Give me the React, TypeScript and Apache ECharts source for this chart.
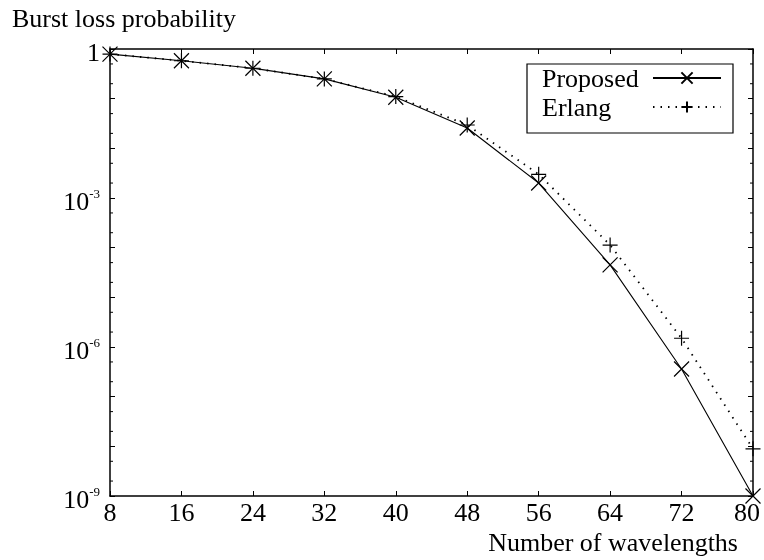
import React, { useEffect, useRef } from 'react';
import * as echarts from 'echarts';

const wavelengths = [8, 16, 24, 32, 40, 48, 56, 64, 72, 80];
const proposedLoss = [0.79, 0.58, 0.41, 0.25, 0.107, 0.0257, 2.0e-3, 4.5e-5, 3.6e-7, 1.0e-9];
const erlangLoss = [0.79, 0.58, 0.41, 0.25, 0.11, 0.0295, 3.0e-3, 1.13e-4, 1.5e-6, 8.9e-9];
const yLabelExponents = [0, -3, -6, -9];
const minorTickMantissas = [2, 5];

const FONT = '"Liberation Serif", "Times New Roman", serif';
const FS = 26;
const CROSS = 'path://M0,0L10,10M10,0L0,10';
const PLUS = 'path://M5,0L5,10M0,5L10,5';

export default function App() {
  const ref = useRef<HTMLDivElement>(null);
  useEffect(() => {
    const chart = echarts.init(ref.current!, null, { renderer: 'svg' });
    const minorTicks: number[][] = [];
    for (let e = -9; e < 0; e++) {
      for (const m of minorTickMantissas) minorTicks.push([8, m * Math.pow(10, e)]);
    }
    const axisLine = { onZero: false, lineStyle: { color: '#000', width: 1.5 } };
    const axisTick = { inside: true, length: 5, lineStyle: { color: '#000', width: 1 } };
    const xBase = {
      type: 'value',
      min: 8,
      max: 80,
      interval: 8,
      axisLine,
      axisTick,
      splitLine: { show: false },
    };
    const yBase = {
      type: 'log',
      logBase: 10,
      min: 1e-9,
      max: 1,
      splitNumber: 9,
      axisLine,
      axisTick,
      splitLine: { show: false },
    };
    chart.setOption({
      animation: false,
      grid: { left: 110, right: 11, top: 49, bottom: 64, outerBoundsMode: 'none', containLabel: false },
      xAxis: [
        {
          ...xBase,
          position: 'bottom',
          axisLabel: {
            fontSize: FS,
            fontFamily: FONT,
            color: '#000',
            margin: 3,
            formatter: (v: number) => (v === 80 ? '{r|80}' : String(v)),
            rich: { r: { fontSize: FS, fontFamily: FONT, color: '#000', padding: [0, 12, 0, 0] } },
          },
        },
        { ...xBase, position: 'top', axisLabel: { show: false } },
      ],
      yAxis: [
        {
          ...yBase,
          position: 'left',
          axisLabel: {
            margin: 10,
            color: '#000',
            formatter: (v: number) => {
              const e = Math.round(Math.log10(v));
              if (e === 0) return '{b|1}';
              if (yLabelExponents.includes(e)) return `{b|10}{s|${e}}`;
              return '';
            },
            rich: {
              b: { fontSize: FS, fontFamily: FONT, color: '#000', lineHeight: 26, padding: [6, 0, 0, 0] },
              s: { fontSize: 13, fontFamily: FONT, color: '#000', lineHeight: 13, verticalAlign: 'top', padding: [2, 0, 0, 0] },
            },
          },
        },
        { ...yBase, position: 'right', axisLabel: { show: false } },
      ],
      legend: {
        orient: 'vertical',
        right: 31,
        top: 64,
        align: 'right',
        itemWidth: 68,
        itemHeight: 14,
        itemGap: 3,
        padding: [1, 11, 13, 15],
        borderColor: '#000',
        borderWidth: 1.2,
        formatter: (name: string) => `{t|${name}}`,
        textStyle: {
          fontSize: FS,
          fontFamily: FONT,
          color: '#000',
          rich: { t: { fontSize: FS, fontFamily: FONT, color: '#000', lineHeight: 26, width: 96, align: 'left', padding: [0, 10, 0, 0] } },
        },
        data: ['Proposed', 'Erlang'],
      },
      graphic: [
        {
          type: 'text',
          x: 12,
          y: 18,
          style: { text: 'Burst loss probability', font: `${FS}px ${FONT}`, fill: '#000', align: 'left', verticalAlign: 'middle' },
        },
        {
          type: 'text',
          x: 738,
          y: 542,
          style: { text: 'Number of wavelengths', font: `${FS}px ${FONT}`, fill: '#000', align: 'right', verticalAlign: 'middle' },
        },
      ],
      series: [
        {
          type: 'custom',
          silent: true,
          xAxisIndex: 0,
          yAxisIndex: 0,
          data: minorTicks,
          clip: false,
          renderItem: (params: any, api: any) => {
            const v = api.value(1);
            const l = api.coord([8, v]);
            const r = api.coord([80, v]);
            return {
              type: 'group',
              children: [
                { type: 'line', shape: { x1: l[0], y1: l[1], x2: l[0] + 3, y2: l[1] }, style: { stroke: '#000', lineWidth: 1 } },
                { type: 'line', shape: { x1: r[0] - 3, y1: r[1], x2: r[0], y2: r[1] }, style: { stroke: '#000', lineWidth: 1 } },
              ],
            };
          },
        },
        {
          name: 'Proposed',
          type: 'line',
          data: wavelengths.map((x, i) => [x, proposedLoss[i]]),
          symbol: CROSS,
          symbolSize: 15,
          clip: false,
          lineStyle: { color: '#000', width: 1.1, type: 'solid' },
          itemStyle: { color: '#000', borderColor: '#000', borderWidth: 1.2 },
          z: 3,
        },
        {
          name: 'Erlang',
          type: 'line',
          data: wavelengths.map((x, i) => [x, erlangLoss[i]]),
          symbol: PLUS,
          symbolSize: 15,
          clip: false,
          lineStyle: { color: '#000', width: 1.8, type: [1.5, 6] },
          itemStyle: { color: '#000', borderColor: '#000', borderWidth: 1.2 },
          z: 3,
        },
      ],
    });
    return () => chart.dispose();
  }, []);
  return <div ref={ref} style={{ position: 'fixed', left: 0, top: 0, width: 764, height: 560 }} />;
}
